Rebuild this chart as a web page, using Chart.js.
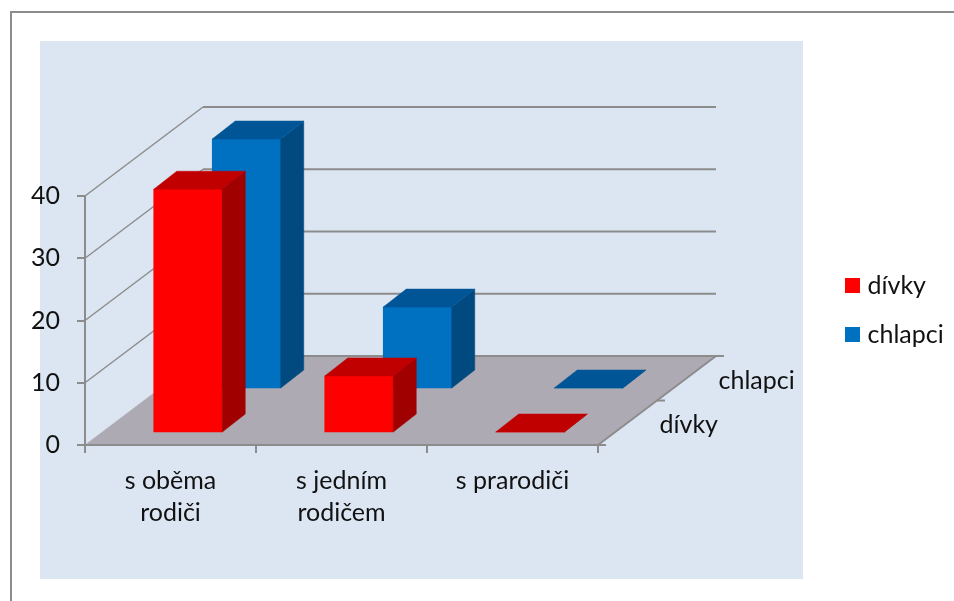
<!DOCTYPE html>
<html>
<head>
<meta charset="utf-8">
<title>graf</title>
<script src="https://cdn.jsdelivr.net/npm/chart.js@4"></script>
<style>
html,body{margin:0;padding:0;background:#fff;overflow:hidden;}
#frame{position:absolute;left:10px;top:11px;width:960px;height:620px;border:2px solid #8c8c8c;box-sizing:border-box;}
#panel{position:absolute;left:40px;top:41px;width:763px;height:538px;background:#dce6f2;}
#wrap{position:absolute;left:0;top:0;width:954px;height:601px;}
</style>
</head>
<body>
<div id="frame"></div>
<div id="panel"></div>
<div id="wrap"><canvas id="graf" width="954" height="601"></canvas></div>
<script>
let categories = [["s oběma","rodiči"],["s jedním","rodičem"],["s prarodiči"]];
let rowNames = ["dívky","chlapci"];
let divky = [39,9,0];
let chlapci = [40,13,0];
let yTicks = [0,10,20,30,40];

let gray = "#8c8c8c";
let font = {family:"Lato, Carlito, sans-serif",size:25};

// depth of the floor in pixels, and of one bar
let floorDx = 118, floorDy = 89;
let barDx = 23, barDy = 18;
let pxPerUnit = 249/40;

function toXY(values){
    return values.map(function(v,i){ return {x:i+0.5,y:v}; });
}

function poly(ctx,color,pts){
    ctx.fillStyle=color;
    ctx.strokeStyle=color;
    ctx.lineWidth=0.5;
    ctx.beginPath();
    pts.forEach(function(p,i){
        if(i==0) ctx.moveTo(p[0],p[1]); else ctx.lineTo(p[0],p[1]);
    });
    ctx.closePath();
    ctx.fill();
    ctx.stroke();
}

function line(ctx,x1,y1,x2,y2){
    ctx.beginPath();
    ctx.moveTo(x1,y1);
    ctx.lineTo(x2,y2);
    ctx.stroke();
}

let shapes = {
    id:"shapes",
    afterLayout:function(chart){
        let lg=chart.legend;
        lg.left=851-font.size; lg.right=954;
        lg.top=249; lg.bottom=249+lg.height;
    },
    beforeDraw:function(chart){
        let ctx=chart.ctx;
        let x=chart.scales.x, y=chart.scales.y;
        let l=x.left, r=x.right, b=y.getPixelForValue(0);
        ctx.save();
        // floor
        poly(ctx,"#adaab3",[[l,b],[r,b],[r+floorDx,b-floorDy],[l+floorDx,b-floorDy]]);
        // walls
        ctx.strokeStyle=gray;
        yTicks.forEach(function(v){
            let py=y.getPixelForValue(v);
            ctx.lineWidth=1.5;
            if(v>0) line(ctx,l,py,l+floorDx,py-floorDy);
            ctx.lineWidth=2;
            line(ctx,l+floorDx,py-floorDy,r+floorDx,py-floorDy);
        });
        ctx.lineWidth=2;
        line(ctx,l,y.getPixelForValue(40),l,b);
        // depth axis
        line(ctx,r,b,r+floorDx,b-floorDy);
        [0,0.5,1].forEach(function(f){
            let px=r+floorDx*f, py=b-floorDy*f;
            line(ctx,px,py,px+8,py);
        });
        // depth labels
        ctx.font=font.size+"px "+font.family;
        ctx.fillStyle="#111";
        ctx.textAlign="left";
        ctx.textBaseline="middle";
        rowNames.forEach(function(name,i){
            let f=(i+0.5)/rowNames.length;
            ctx.fillText(name,r+floorDx*f+32,b-floorDy*f+2.5);
        });
        ctx.restore();
    },
    afterDatasetDraw:function(chart,args){
        let ctx=chart.ctx;
        let ds=chart.data.datasets[args.index];
        ctx.save();
        args.meta.data.forEach(function(bar){
            let p=bar.getProps(["x","y","base","width"],true);
            let x1=p.x-p.width/2, x2=p.x+p.width/2;
            poly(ctx,ds.sideColor,[[x2,p.y],[x2+barDx,p.y-barDy],[x2+barDx,p.base-barDy],[x2,p.base]]);
            poly(ctx,ds.topColor,[[x1,p.y],[x2,p.y],[x2+barDx,p.y-barDy],[x1+barDx,p.y-barDy]]);
        });
        ctx.restore();
    }
};

// the two rows of bars stand further back than the front axes
function hiddenX(shift){
    return {type:"linear",display:false,offset:false,min:-shift/171,max:3-shift/171};
}
function hiddenY(shift){
    return {display:false,min:-shift/pxPerUnit,max:40-shift/pxPerUnit};
}

// small box with a wide stroke, keeps the text closer to the square
function legendLabels(chart){
    return chart.data.datasets.map(function(ds,i){
        return {text:ds.label,fillStyle:ds.backgroundColor,strokeStyle:ds.backgroundColor,lineWidth:10,fontColor:"#111",datasetIndex:i};
    });
}

new Chart(document.getElementById("graf"),{
    type:"bar",
    plugins:[shapes],
    data:{
        labels:categories,
        datasets:[
            {label:rowNames[0],data:toXY(divky),backgroundColor:"#ff0000",sideColor:"#a00000",topColor:"#c00000",
             xAxisID:"xRed",yAxisID:"yRed",clip:false,barThickness:68.5,grouped:false},
            {label:rowNames[1],data:toXY(chlapci),backgroundColor:"#0070c0",sideColor:"#004a7f",topColor:"#005596",
             xAxisID:"xBlue",yAxisID:"yBlue",clip:false,barThickness:68.5,grouped:false}
        ]
    },
    options:{
        responsive:false,
        animation:false,
        layout:{padding:{left:0,top:196,right:356,bottom:0}},
        plugins:{
            tooltip:{enabled:false},
            legend:{
                position:"chartArea",
                align:"start",
                labels:{boxWidth:5,boxHeight:5,padding:24,font:font,color:"#111",generateLabels:legendLabels}
            }
        },
        scales:{
            x:{
                type:"category",
                grid:{drawOnChartArea:false,tickLength:8,color:gray,lineWidth:2,offset:true},
                border:{color:gray,width:2},
                ticks:{font:Object.assign({},font,{lineHeight:32/25}),color:"#111",padding:12,maxRotation:0,autoSkip:false},
                afterFit:function(s){ s.height=156; }
            },
            y:{
                min:0,max:40,
                grid:{drawOnChartArea:false,tickLength:8,color:gray,lineWidth:2},
                border:{display:false},
                ticks:{stepSize:10,font:font,color:"#111",padding:17},
                afterFit:function(s){ s.width=85; }
            },
            xRed:hiddenX(17.5),
            yRed:hiddenY(13),
            xBlue:hiddenX(76),
            yBlue:hiddenY(57)
        }
    }
});
</script>
</body>
</html>
